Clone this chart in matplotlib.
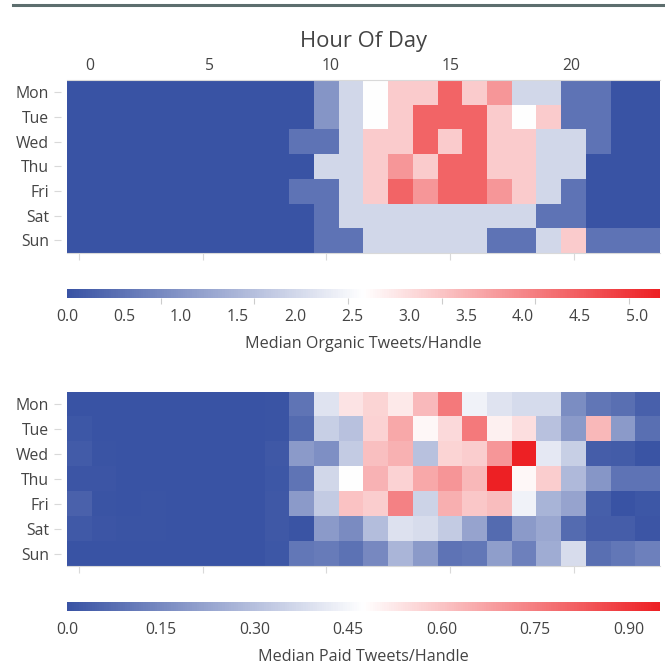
import numpy as np
import matplotlib
matplotlib.use('Agg')
import matplotlib.pyplot as plt
from matplotlib.colors import LinearSegmentedColormap
from matplotlib.lines import Line2D

days = ['Mon', 'Tue', 'Wed', 'Thu', 'Fri', 'Sat', 'Sun']
hour_ticks = [0, 5, 10, 15, 20]
organic_cbar_ticks = [0.0, 0.5, 1.0, 1.5, 2.0, 2.5, 3.0, 3.5, 4.0, 4.5, 5.0]
paid_cbar_ticks = [0.0, 0.15, 0.30, 0.45, 0.60, 0.75, 0.90]

organic_mon = [0, 0, 0, 0, 0, 0, 0, 0, 0, 0, 1.0, 2.0, 2.6, 3.2, 3.2, 4.4, 3.2, 3.8, 2.0, 2.0, 0.5, 0.5, 0, 0]
organic_tue = [0, 0, 0, 0, 0, 0, 0, 0, 0, 0, 1.0, 2.0, 2.6, 3.2, 4.4, 4.4, 4.4, 3.2, 2.6, 3.2, 0.5, 0.5, 0, 0]
organic_wed = [0, 0, 0, 0, 0, 0, 0, 0, 0, 0.5, 0.5, 2.0, 3.2, 3.2, 4.4, 3.2, 4.4, 3.2, 3.2, 2.0, 2.0, 0.5, 0, 0]
organic_thu = [0, 0, 0, 0, 0, 0, 0, 0, 0, 0, 2.0, 2.0, 3.2, 3.8, 3.2, 4.4, 4.4, 3.2, 3.2, 2.0, 2.0, 0, 0, 0]
organic_fri = [0, 0, 0, 0, 0, 0, 0, 0, 0, 0.5, 0.5, 2.0, 3.2, 4.4, 3.8, 4.4, 4.4, 3.8, 3.2, 2.0, 0.5, 0, 0, 0]
organic_sat = [0, 0, 0, 0, 0, 0, 0, 0, 0, 0, 0.5, 2.0, 2.0, 2.0, 2.0, 2.0, 2.0, 2.0, 2.0, 0.5, 0.5, 0, 0, 0]
organic_sun = [0, 0, 0, 0, 0, 0, 0, 0, 0, 0, 0.5, 0.5, 2.0, 2.0, 2.0, 2.0, 2.0, 0.5, 0.5, 2.0, 3.2, 0.5, 0.5, 0.5]

paid_mon = [0, 0, 0, 0, 0, 0, 0, 0, 0.005, 0.094, 0.40, 0.533, 0.565, 0.52, 0.62, 0.76, 0.44, 0.40, 0.375, 0.375, 0.16, 0.10, 0.08, 0.04]
paid_tue = [0.012, 0.003, 0.002, 0, 0, 0, 0, 0, 0.005, 0.067, 0.343, 0.307, 0.571, 0.66, 0.49, 0.554, 0.76, 0.507, 0.545, 0.307, 0.20, 0.624, 0.20, 0.08]
paid_wed = [0.025, 0.005, 0, 0, 0, 0, 0, 0, 0.015, 0.199, 0.17, 0.331, 0.609, 0.639, 0.307, 0.565, 0.581, 0.695, 0.95, 0.415, 0.343, 0.03, 0.026, 0.007]
paid_thu = [0.01, 0.008, 0.003, 0, 0, 0, 0, 0, 0.012, 0.094, 0.367, 0.475, 0.635, 0.571, 0.66, 0.699, 0.624, 0.95, 0.49, 0.581, 0.283, 0.187, 0.09, 0.09]
paid_fri = [0.043, 0.005, 0.003, 0.006, 0, 0, 0, 0, 0.015, 0.199, 0.331, 0.603, 0.581, 0.741, 0.355, 0.645, 0.592, 0.613, 0.44, 0.27, 0.223, 0.036, 0.0, 0.012]
paid_sat = [0.019, 0.01, 0.005, 0.006, 0, 0, 0, 0, 0.015, 0.007, 0.199, 0.156, 0.295, 0.396, 0.38, 0.331, 0.223, 0.067, 0.199, 0.235, 0.07, 0.03, 0.03, 0.008]
paid_sun = [0, 0, 0, 0, 0, 0, 0, 0, 0.012, 0.103, 0.115, 0.086, 0.151, 0.271, 0.199, 0.091, 0.103, 0.211, 0.127, 0.247, 0.38, 0.079, 0.103, 0.127]

organic = np.array([organic_mon, organic_tue, organic_wed, organic_thu, organic_fri, organic_sat, organic_sun])
paid = np.array([paid_mon, paid_tue, paid_wed, paid_thu, paid_fri, paid_sat, paid_sun])

ORG_MAX = 5.2
PAID_MAX = 0.95

FONT = ['Open Sans', 'DejaVu Sans']
plt.rcParams['font.family'] = FONT
TXT = '#444444'
GRID = '#d9d9d9'
TICK_FS = 11.3
LABEL_FS = 11.6

cmap = LinearSegmentedColormap.from_list('bwr_custom', ['#3953a4', '#ffffff', '#ed2024'])

W = H = 665.0
fig = plt.figure(figsize=(6.65, 6.65), dpi=100)


def box(x0, y0, x1, y1):
    return [x0 / W, 1 - y1 / H, (x1 - x0) / W, (y1 - y0) / H]


# header rule
fig.add_artist(Line2D([13 / W, 1.0], [1 - 5 / H, 1 - 5 / H], color='#5d6e6e', lw=2.2,
                      transform=fig.transFigure))


def style_heat(ax, top_line):
    ax.set_yticks(range(len(days)))
    ax.set_yticklabels(days)
    ax.set_xticks(hour_ticks)
    ax.set_xlim(-0.5, 23.5)
    ax.set_ylim(6.5, -0.5)
    for s in ['left', 'right']:
        ax.spines[s].set_visible(False)
    ax.spines['bottom'].set_color(GRID)
    ax.spines['top'].set_color(GRID)
    ax.spines['top'].set_visible(top_line)
    ax.spines['left'].set_position(('outward', 4))
    ax.tick_params(axis='y', length=5, color=GRID, labelsize=TICK_FS, labelcolor=TXT, pad=4)
    ax.tick_params(axis='x', length=5, color=GRID, bottom=True, top=False,
                   labelbottom=False, labeltop=False)


ax1 = fig.add_axes(box(67, 80, 660, 252.7))
im1 = ax1.imshow(organic, cmap=cmap, vmin=0, vmax=ORG_MAX, aspect='auto', interpolation='nearest')
style_heat(ax1, True)

# top hour labels (drawn on a slightly offset top axis, as in the original)
axt = ax1.twiny()
axt.set_xlim(-0.93, 23.67)
axt.set_xticks(hour_ticks)
axt.set_xticklabels([str(h) for h in hour_ticks])
axt.tick_params(axis='x', length=0, labelsize=TICK_FS, labelcolor=TXT, pad=4)
for s in axt.spines.values():
    s.set_visible(False)
axt.set_xlabel('Hour Of Day', fontsize=15.8, color=TXT, labelpad=8)

ax2 = fig.add_axes(box(67, 391.7, 660, 566))
im2 = ax2.imshow(paid, cmap=cmap, vmin=0, vmax=PAID_MAX, aspect='auto', interpolation='nearest')
style_heat(ax2, False)


def style_cbar(cb, ticks, labels, label, minor_vals):
    cb.outline.set_visible(False)
    cb.set_ticks(ticks)
    cb.set_ticklabels(labels)
    cb.ax.tick_params(which='major', length=0, labelsize=TICK_FS, labelcolor=TXT, pad=8)
    cb.ax.set_xticks(minor_vals, minor=True)
    cb.ax.tick_params(which='minor', length=4, color='#cccccc', width=0.8)
    cb.set_label(label, fontsize=LABEL_FS, color=TXT, labelpad=8)


cax1 = fig.add_axes(box(67, 289, 660, 298))
cb1 = fig.colorbar(im1, cax=cax1, orientation='horizontal')
minor1 = [ORG_MAX * t / PAID_MAX for t in paid_cbar_ticks]
style_cbar(cb1, organic_cbar_ticks, ['{:.1f}'.format(t) for t in organic_cbar_ticks],
           'Median Organic Tweets/Handle', minor1)

cax2 = fig.add_axes(box(67, 602, 660, 611))
cb2 = fig.colorbar(im2, cax=cax2, orientation='horizontal')
style_cbar(cb2, paid_cbar_ticks, ['0.0'] + ['{:.2f}'.format(t) for t in paid_cbar_ticks[1:]],
           'Median Paid Tweets/Handle', paid_cbar_ticks)

fig.savefig('out.png', dpi=100)
